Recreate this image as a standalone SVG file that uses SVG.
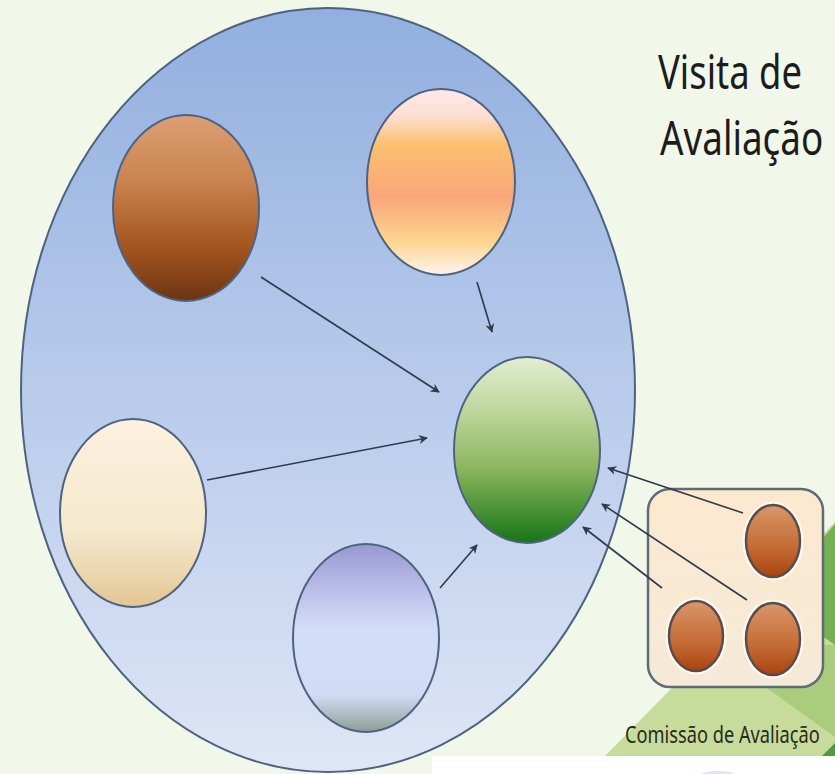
<svg xmlns="http://www.w3.org/2000/svg" width="835" height="774" viewBox="0 0 835 774">
<defs>
<linearGradient id="gBig" x1="0" y1="0" x2="0" y2="1">
<stop offset="0" stop-color="#92afdf"/><stop offset="0.5" stop-color="#b8cbeb"/><stop offset="1" stop-color="#dfe6f6"/>
</linearGradient>
<linearGradient id="gBrown" x1="0" y1="0" x2="0" y2="1">
<stop offset="0" stop-color="#dc9f74"/><stop offset="0.35" stop-color="#c9844f"/><stop offset="0.7" stop-color="#a6561f"/><stop offset="1" stop-color="#6c3413"/>
</linearGradient>
<linearGradient id="gOrange" x1="0" y1="0" x2="0" y2="1">
<stop offset="0" stop-color="#fde8ea"/><stop offset="0.14" stop-color="#fde0d4"/><stop offset="0.3" stop-color="#fbc070"/><stop offset="0.58" stop-color="#f9a67a"/><stop offset="0.82" stop-color="#fdd58e"/><stop offset="1" stop-color="#fff4f0"/>
</linearGradient>
<linearGradient id="gGreen" x1="0" y1="0" x2="0" y2="1">
<stop offset="0" stop-color="#e2eed0"/><stop offset="0.3" stop-color="#bdd59a"/><stop offset="0.6" stop-color="#8bb65e"/><stop offset="1" stop-color="#167516"/>
</linearGradient>
<linearGradient id="gCream" x1="0" y1="0" x2="0" y2="1">
<stop offset="0" stop-color="#fdf1df"/><stop offset="0.6" stop-color="#f4e8cd"/><stop offset="0.85" stop-color="#ead4aa"/><stop offset="1" stop-color="#e2c592"/>
</linearGradient>
<linearGradient id="gBlue" x1="0" y1="0" x2="0" y2="1">
<stop offset="0" stop-color="#9898d2"/><stop offset="0.3" stop-color="#c3c7ee"/><stop offset="0.45" stop-color="#d3ddf8"/><stop offset="0.8" stop-color="#d0dcf6"/><stop offset="0.92" stop-color="#aab9bc"/><stop offset="1" stop-color="#8a9d98"/>
</linearGradient>
<linearGradient id="gBox" x1="0" y1="0" x2="0" y2="1">
<stop offset="0" stop-color="#fde8cf"/><stop offset="1" stop-color="#f4ead8"/>
</linearGradient>
<linearGradient id="gSmall" x1="0" y1="0" x2="0" y2="1">
<stop offset="0" stop-color="#d9966a"/><stop offset="0.6" stop-color="#c46a34"/><stop offset="1" stop-color="#a9430f"/>
</linearGradient>
<marker id="arr" viewBox="0 0 10 10" refX="9" refY="5" markerWidth="9" markerHeight="9" markerUnits="userSpaceOnUse" orient="auto">
<path d="M0,0 L10,5 L0,10 L3,5 z" fill="#2f3a4a"/>
</marker>
</defs>
<style>
.node{stroke:#4e6380;stroke-width:2}
.small{stroke:#5b4c4a;stroke-width:2.5}
.halo{fill:none;stroke:#ffffff;stroke-opacity:0.7;stroke-width:3}
.conn line{stroke:#2f3a4a;stroke-width:1.6;marker-end:url(#arr)}
.title{font-family:"Noto Sans","Open Sans",sans-serif;font-size:47px;fill:#1c1c1c}
.label{font-family:"Noto Sans","Open Sans",sans-serif;font-size:24px;fill:#2a2a22}
</style>
<rect width="835" height="774" fill="#f1f8e9"/>
<g id="decor">
<polygon points="605,756 835,522 835,756" fill="#c7dc9b"/>
<polygon points="835,524 770,600 835,645" fill="#73b152"/>
<polygon points="700,640 835,737 835,645" fill="#aacd7d"/>
<polygon points="822,756 835,743 835,756" fill="#4d9b3b"/>
<rect x="432" y="756" width="403" height="18" fill="#ffffff"/>
<ellipse cx="718" cy="779" rx="22" ry="8" fill="#c9d4f0" opacity="0.6"/>
</g>
<g id="contexto">
<ellipse cx="328" cy="390" rx="307" ry="382" fill="url(#gBig)" class="node"/>
</g>
<g id="no-marrom"><ellipse cx="186" cy="208" rx="73" ry="93" fill="url(#gBrown)" class="node"/></g>
<g id="no-laranja"><ellipse cx="441" cy="182" rx="74" ry="93" fill="url(#gOrange)" class="node"/></g>
<g id="no-creme"><ellipse cx="133" cy="513" rx="73" ry="94" fill="url(#gCream)" class="node"/></g>
<g id="no-azul"><ellipse cx="366" cy="638" rx="73" ry="94" fill="url(#gBlue)" class="node"/></g>
<g id="no-verde"><ellipse cx="527" cy="450" rx="73" ry="93" fill="url(#gGreen)" class="node"/></g>
<g id="comissao">
<rect x="648" y="489" width="175" height="198" rx="22" fill="url(#gBox)" stroke="#5f6b78" stroke-width="2.5"/>
<ellipse cx="773" cy="541" rx="29" ry="38" class="halo"/>
<ellipse cx="696" cy="636" rx="29" ry="37" class="halo"/>
<ellipse cx="773" cy="639" rx="29" ry="38" class="halo"/>
<ellipse cx="773" cy="541" rx="27" ry="36" fill="url(#gSmall)" class="small"/>
<ellipse cx="696" cy="636" rx="27" ry="35" fill="url(#gSmall)" class="small"/>
<ellipse cx="773" cy="639" rx="27" ry="36" fill="url(#gSmall)" class="small"/>
<text class="label" transform="translate(625,743) scale(0.76,1)">Comissão de Avaliação</text>
</g>
<g id="titulo">
<text class="title" transform="translate(658,89) scale(0.775,1)">Visita de</text>
<text class="title" transform="translate(660,155) scale(0.784,1)">Avaliação</text>
</g>
<g class="conn" id="connectors">
<line x1="261" y1="277" x2="439" y2="392"/>
<line x1="477" y1="282" x2="492" y2="332"/>
<line x1="207" y1="480" x2="427" y2="438"/>
<line x1="440" y1="588" x2="477" y2="545"/>
<line x1="743" y1="513" x2="608" y2="468"/>
<line x1="747" y1="600" x2="602" y2="504"/>
<line x1="662" y1="588" x2="583" y2="527"/>
</g>
</svg>
